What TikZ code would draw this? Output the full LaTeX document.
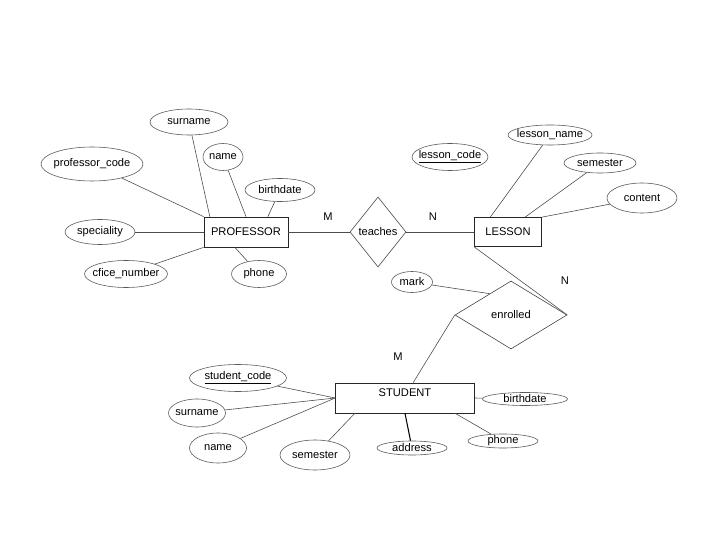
\documentclass[tikz,border=0pt]{standalone}
\usepackage{fontspec}
\setmainfont{Liberation Sans}
\usetikzlibrary{shapes, positioning}

\tikzset{
    attr/.style={ellipse, draw=black!65, line width=0.5pt, inner xsep=-0.2cm, inner ysep=-0.05cm, font=\fontsize{9.5}{11}\selectfont},
    entity/.style={rectangle, draw=black!85, line width=0.6pt, inner sep=0pt, font=\fontsize{9.5}{11}\selectfont},
    rel/.style={diamond, draw=black!75, line width=0.5pt, inner sep=0pt, font=\fontsize{9.5}{11}\selectfont},
    link/.style={draw=black!70, line width=0.5pt},
    card/.style={font=\fontsize{9.5}{11}\selectfont}
}

\begin{document}
\begin{tikzpicture}[x=0.03cm, y=-0.03cm]
        \useasboundingbox (0,0) rectangle (720,540);

        % PROFESSOR and its attributes
        \node[entity, minimum width=2.52cm, minimum height=0.9cm] (prof) at (246,232) {PROFESSOR};
        \node[attr, minimum width=3.06cm, minimum height=1.02cm] (pcode) at (92,164) {professor\_code};
        \node[attr, minimum width=2.34cm, minimum height=0.78cm] (psurname) at (189,122) {surname};
        \node[attr, minimum width=1.2cm, minimum height=0.81cm] (pname) at (223,157) {name};
        \node[attr, minimum width=2.1cm, minimum height=0.69cm] (pbirth) at (280,190) {birthdate};
        \node[attr, minimum width=2.1cm, minimum height=0.75cm] (pspec) at (100,232) {speciality};
        \node[attr, minimum width=2.49cm, minimum height=0.81cm] (poffice) at (126,274) {cfice\_number};
        \node[attr, minimum width=1.65cm, minimum height=0.81cm] (pphone) at (259,274) {phone};

        \draw[link] (pcode) -- (prof.north west);
        \draw[link] (psurname) -- (prof.157);
        \draw[link] (pname) -- (prof.north);
        \draw[link] (pbirth) -- (prof.35);
        \draw[link] (pspec) -- (prof.west);
        \draw[link] (poffice) -- (prof.south west);
        \draw[link] (pphone) -- (prof.234);

        % teaches
        \node[rel, minimum width=1.68cm, minimum height=2.1cm] (teaches) at (378,232) {teaches};

        % LESSON and its attributes
        \node[entity, minimum width=2.01cm, minimum height=0.87cm] (lesson) at (508,232) {LESSON};
        \node[attr, minimum width=2.28cm, minimum height=0.81cm] (lcode) at (450,157) {\underline{lesson\_code}};
        \node[attr, minimum width=2.52cm, minimum height=0.6cm] (lname) at (550,135) {lesson\_name};
        \node[attr, minimum width=2.16cm, minimum height=0.6cm] (lsem) at (600,163) {semester};
        \node[attr, minimum width=2.1cm, minimum height=0.9cm] (lcont) at (642,198) {content};

        \draw[link] (lname) -- (lesson.140);
        \draw[link] (lsem) -- (lesson.41);
        \draw[link] (lcont) -- (lesson.north east);

        \draw[link] (prof.east) -- (teaches.west);
        \draw[link] (teaches.east) -- (lesson.west);
        \node[card] (cm1) at (328,217) {M};
        \node[card] (cn1) at (433,217) {N};

        % enrolled
        \node[rel, minimum width=3.36cm, minimum height=2.04cm] (enrolled) at (511,315) {enrolled};
        \node[attr, minimum width=1.23cm, minimum height=0.63cm] (mark) at (412,282) {mark};

        \draw[link] (mark) -- (enrolled.135);
        \draw[link] (lesson.south west) -- (enrolled.east);
        \node[card] (cn2) at (565,281) {N};
        \node[card] (cm2) at (398,357) {M};

        % STUDENT and its attributes
        \node[entity, minimum width=4.17cm, minimum height=0.9cm, text depth=0.35cm] (student) at (405,398) {STUDENT};
        \node[attr, minimum width=2.91cm, minimum height=0.81cm] (scode) at (238,378) {\underline{student\_code}};
        \node[attr, minimum width=1.71cm, minimum height=0.84cm] (ssurname) at (197,413) {surname};
        \node[attr, minimum width=1.71cm, minimum height=0.9cm] (sname) at (218,448) {name};
        \node[attr, minimum width=2.1cm, minimum height=0.9cm] (ssem) at (315,455) {semester};
        \node[attr, minimum width=2.1cm, minimum height=0.42cm] (saddr) at (412,448) {address};
        \node[attr, minimum width=2.1cm, minimum height=0.42cm] (sphone) at (503,441) {phone};
        \node[attr, minimum width=2.55cm, minimum height=0.39cm] (sbirth) at (525,399) {birthdate};

        \draw[link] (enrolled.west) -- (student.62);
        \draw[link] (scode) -- (student.west);
        \draw[link] (ssurname) -- (student.west);
        \draw[link] (sname) -- (student.west);
        \draw[link] (ssem) -- (student.197);
        \draw[black, line width=0.9pt] (saddr) -- (student.south);
        \draw[link] (sphone) -- (student.343);
        \draw[link] (sbirth) -- (student.east);

    \end{tikzpicture}
\end{document}
